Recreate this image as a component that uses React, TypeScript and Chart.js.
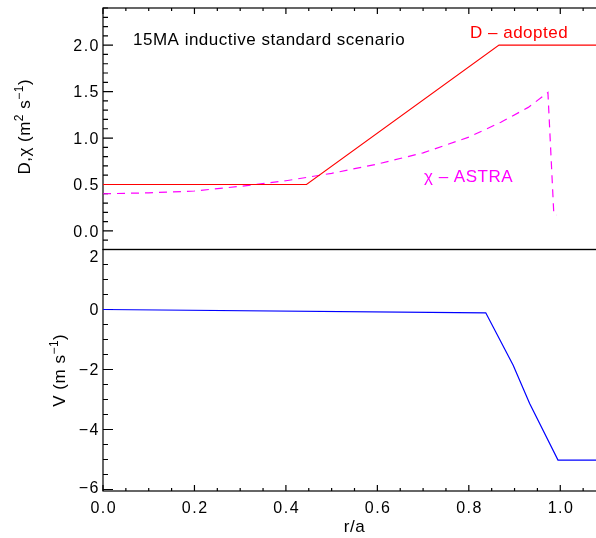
import { useEffect, useRef } from 'react';
import { Chart, registerables } from 'chart.js';

Chart.register(...registerables);

// Transport coefficients vs normalised minor radius r/a
const R_D = [0, 0.445, 0.866, 1.1];
const D_ADOPTED = [0.5, 0.5, 2.0, 2.0];

const R_CHI = [0, 0.1, 0.2, 0.3, 0.4, 0.5, 0.6, 0.7, 0.8, 0.87, 0.93, 0.973, 0.986, 0.991];
const CHI_ASTRA = [0.40, 0.41, 0.43, 0.48, 0.54, 0.62, 0.72, 0.84, 1.01, 1.17, 1.33, 1.49, 0.17, 0.17];

const R_V = [0, 0.837, 0.897, 0.933, 0.995, 1.1];
const V_PINCH = [0, -0.11, -1.86, -3.13, -5.02, -5.02];

// Axis ranges and labelled ticks
const X_RANGE = [0, 1.1];
const TOP_RANGE = [-0.2, 2.4];
const BOT_RANGE = [-6.05, 2];
const X_TICKS = [0, 0.2, 0.4, 0.6, 0.8, 1.0];
const TOP_TICKS = [0, 0.5, 1.0, 1.5, 2.0];
const BOT_TICKS = [-6, -4, -2, 0, 2];

const FONT = '"Liberation Sans", Arial, Helvetica, sans-serif';

type Part = { t: string; sup?: boolean };

function richWidth(ctx: CanvasRenderingContext2D, parts: Part[], size: number, supSize: number) {
  let w = 0;
  for (const p of parts) {
    ctx.font = `${p.sup ? supSize : size}px ${FONT}`;
    w += ctx.measureText(p.t).width;
  }
  return w;
}

function drawRich(
  ctx: CanvasRenderingContext2D,
  parts: Part[],
  cx: number,
  baseline: number,
  rotated: boolean,
  size: number,
  color: string
) {
  const supSize = Math.round(size * 0.68);
  ctx.save();
  ctx.fillStyle = color;
  (ctx as any).letterSpacing = '0.5px';
  ctx.textBaseline = 'alphabetic';
  ctx.textAlign = 'left';
  const w = richWidth(ctx, parts, size, supSize);
  if (rotated) {
    ctx.translate(baseline, cx);
    ctx.rotate(-Math.PI / 2);
  } else {
    ctx.translate(cx, baseline);
  }
  let x = -w / 2;
  for (const p of parts) {
    ctx.font = `${p.sup ? supSize : size}px ${FONT}`;
    ctx.fillText(p.t, x, p.sup ? -size * 0.42 : 0);
    x += ctx.measureText(p.t).width;
  }
  ctx.restore();
}

function fmt(v: number, digits: number) {
  const s = v.toFixed(digits);
  return v < 0 ? '\u2212' + s.slice(1) : s;
}

const axesPlugin = {
  id: 'idlAxes',
  // frames and inward ticks go under the curves
  beforeDatasetsDraw(chart: any) {
    const { ctx, chartArea: a, scales } = chart;
    const sx = scales.x;
    const yt = scales.yTop;
    const yb = scales.yBot;
    ctx.save();
    ctx.strokeStyle = '#000';
    ctx.lineWidth = 1.2;

    for (const s of [yt, yb]) {
      ctx.strokeRect(a.left, s.top, a.right - a.left, s.bottom - s.top);
    }

    ctx.beginPath();
    for (let i = 0; i <= 22; i++) {
      const px = sx.getPixelForValue(i * 0.05);
      const len = i % 4 === 0 ? 6 : 3;
      ctx.moveTo(px, a.bottom);
      ctx.lineTo(px, a.bottom - len);
      ctx.moveTo(px, a.top);
      ctx.lineTo(px, a.top + len);
    }
    for (let i = -2; i <= 24; i++) {
      const py = yt.getPixelForValue(i * 0.1);
      const len = i % 5 === 0 ? 10 : 5;
      ctx.moveTo(a.left, py);
      ctx.lineTo(a.left + len, py);
      ctx.moveTo(a.right, py);
      ctx.lineTo(a.right - len, py);
    }
    for (let i = -12; i <= 4; i++) {
      const py = yb.getPixelForValue(i * 0.5);
      const len = i % 4 === 0 ? 10 : 5;
      ctx.moveTo(a.left, py);
      ctx.lineTo(a.left + len, py);
      ctx.moveTo(a.right, py);
      ctx.lineTo(a.right - len, py);
    }
    ctx.stroke();
    ctx.restore();
  },
  afterDraw(chart: any) {
    const { ctx, chartArea: a, scales } = chart;
    const sx = scales.x;
    const yt = scales.yTop;
    const yb = scales.yBot;

    // tick labels
    ctx.save();
    ctx.fillStyle = '#000';
    ctx.font = `16px ${FONT}`;
    (ctx as any).letterSpacing = '1.5px';
    ctx.textBaseline = 'alphabetic';
    ctx.textAlign = 'center';
    for (const v of X_TICKS) {
      ctx.fillText(fmt(v, 1), sx.getPixelForValue(v) + 0.75, a.bottom + 21.5);
    }
    ctx.textAlign = 'right';
    const yLabels = (s: any, ticks: number[], digits: number) => {
      for (const v of ticks) {
        let py = s.getPixelForValue(v);
        py = Math.min(Math.max(py, s.top + 6.5), s.bottom - 4);
        ctx.fillText(fmt(v, digits), a.left - 3, py + 5.7);
      }
    };
    yLabels(yt, TOP_TICKS, 1);
    yLabels(yb, BOT_TICKS, 0);
    ctx.restore();

    // axis titles
    drawRich(ctx, [{ t: 'r/a' }], sx.getPixelForValue(0.55), 532, false, 17, '#000');
    drawRich(
      ctx,
      [{ t: 'D,\u03c7 (m' }, { t: '2', sup: true }, { t: ' s' }, { t: '\u22121', sup: true }, { t: ')' }],
      (yt.top + yt.bottom) / 2 - 2,
      30,
      true,
      17,
      '#000'
    );
    drawRich(
      ctx,
      [{ t: 'V (m s' }, { t: '\u22121', sup: true }, { t: ')' }],
      (yb.top + yb.bottom) / 2,
      65,
      true,
      17,
      '#000'
    );

    // annotations
    ctx.save();
    ctx.font = `17px ${FONT}`;
    (ctx as any).letterSpacing = '0.5px';
    ctx.textAlign = 'left';
    ctx.textBaseline = 'alphabetic';
    ctx.fillStyle = '#000';
    ctx.fillText('15MA inductive standard scenario', 133, 45);
    ctx.fillStyle = '#ff0000';
    ctx.fillText('D \u2013 adopted', 470, 37.5);
    ctx.fillStyle = '#ff00ff';
    ctx.fillText('\u03c7 \u2013 ASTRA', 424, 181.5);
    ctx.restore();
  },
};

const pts = (xs: number[], ys: number[]) => xs.map((x, i) => ({ x, y: ys[i] }));

export default function App() {
  const ref = useRef<HTMLCanvasElement>(null);

  useEffect(() => {
    if (!ref.current) return;
    const chart = new Chart(ref.current, {
      type: 'line',
      data: {
        datasets: [
          {
            label: 'D - adopted',
            data: pts(R_D, D_ADOPTED),
            yAxisID: 'yTop',
            borderColor: '#ff0000',
            borderWidth: 1.1,
            pointRadius: 0,
          },
          {
            label: '\u03c7 - ASTRA',
            data: pts(R_CHI, CHI_ASTRA),
            yAxisID: 'yTop',
            borderColor: '#ff00ff',
            borderWidth: 1.2,
            borderDash: [8, 6],
            tension: 0,
            pointRadius: 0,
          },
          {
            label: 'V',
            data: pts(R_V, V_PINCH),
            yAxisID: 'yBot',
            borderColor: '#0000ff',
            borderWidth: 1.2,
            pointRadius: 0,
          },
        ],
      },
      options: {
        responsive: false,
        animation: false,
        layout: { padding: { top: 8, left: 0, right: 0, bottom: 0 } },
        plugins: { legend: { display: false }, tooltip: { enabled: false } },
        scales: {
          x: {
            type: 'linear',
            position: 'bottom',
            min: X_RANGE[0],
            max: X_RANGE[1],
            grid: { display: false },
            border: { display: false },
            ticks: { display: false },
            afterFit: (s: any) => {
              s.height = 47;
            },
          },
          // left-side stacked boxes are laid out in reverse order: the later one sits on top
          yBot: {
            type: 'linear',
            position: 'left',
            stack: 'panels',
            stackWeight: 1,
            min: BOT_RANGE[0],
            max: BOT_RANGE[1],
            grid: { display: false },
            border: { display: false },
            ticks: { display: false },
            afterFit: (s: any) => {
              s.width = 103;
            },
          },
          yTop: {
            type: 'linear',
            position: 'left',
            stack: 'panels',
            stackWeight: 1,
            min: TOP_RANGE[0],
            max: TOP_RANGE[1],
            grid: { display: false },
            border: { display: false },
            ticks: { display: false },
            afterFit: (s: any) => {
              s.width = 103;
            },
          },
        },
      } as any,
      plugins: [axesPlugin],
    });
    return () => chart.destroy();
  }, []);

  return (
    <div
      style={{
        position: 'fixed',
        left: 0,
        top: 0,
        width: 596,
        height: 538,
        overflow: 'hidden',
        background: '#fff',
      }}
    >
      <canvas ref={ref} width={606} height={538} style={{ display: 'block' }} />
    </div>
  );
}
